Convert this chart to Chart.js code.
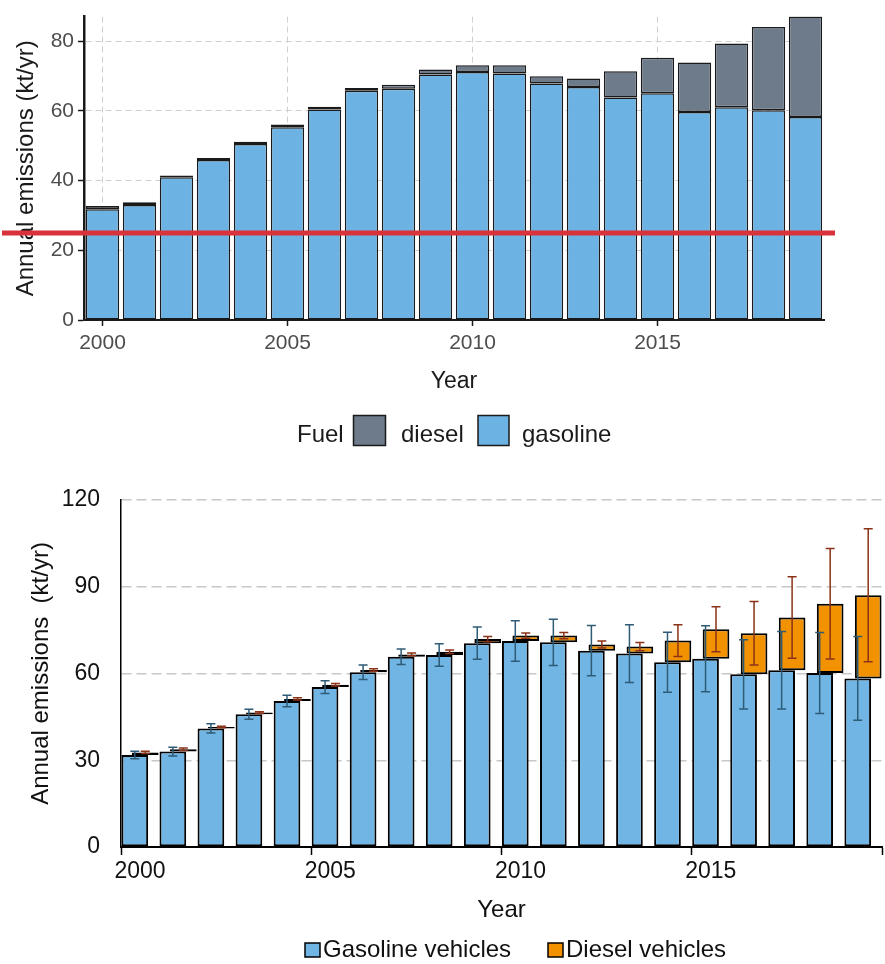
<!DOCTYPE html>
<html>
<head>
<meta charset="utf-8">
<script src="https://cdn.jsdelivr.net/npm/chart.js@4.4.1/dist/chart.umd.min.js"></script>
<style>
  body { margin: 0; background: #fff; }
  #top_wrap { position: absolute; left: 0; top: 0; width: 885px; height: 460px; }
  #bottom_wrap { position: absolute; left: 0; top: 460px; width: 885px; height: 504px; }
</style>
</head>
<body>
<div id="top_wrap"><canvas id="fuel_chart"></canvas></div>
<div id="bottom_wrap"><canvas id="vehicle_chart"></canvas></div>
<script>
// values (kt/yr)
var years = [2000, 2001, 2002, 2003, 2004, 2005, 2006, 2007, 2008, 2009,
             2010, 2011, 2012, 2013, 2014, 2015, 2016, 2017, 2018, 2019]
var gasoline = [31.8, 33.0, 41.0, 45.9, 50.5, 55.3, 60.4, 65.8, 66.4, 70.5,
                71.2, 70.8, 67.9, 66.9, 63.9, 65.1, 59.7, 61.1, 60.2, 58.3]
var diesel = [0.9, 0.8, 0.5, 0.6, 0.7, 0.8, 0.8, 0.8, 1.1, 1.4,
              1.9, 2.3, 2.1, 2.4, 7.5, 10.2, 14.2, 18.3, 23.9, 28.8]
var gasolineErr = [1.3, 1.5, 1.6, 1.7, 2.0, 2.2, 2.5, 2.7, 3.9, 5.6,
                   7.0, 8.0, 8.7, 10.0, 10.4, 11.4, 12.0, 13.4, 14.0, 14.5]
var dieselErr = [0.4, 0.4, 0.3, 0.3, 0.4, 0.4, 0.4, 0.5, 0.6, 0.9,
                 0.9, 1.1, 1.2, 1.4, 5.5, 7.8, 11.0, 14.1, 19.1, 23.0]

var shownYears = [2000, 2005, 2010, 2015]
var topYTicks = [0, 20, 40, 60, 80]
var bottomYTicks = [0, 30, 60, 90, 120]
var limitLine = 25

var FONT = "'Liberation Sans', Arial, sans-serif"
Chart.defaults.font.family = FONT
Chart.defaults.animation = false

var totals = gasoline.map((g, i) => g + diesel[i])

function isShown(i) {
  return shownYears.includes(years[i])
}

// ---------- top chart (stacked, ggplot look) ----------
var topExtras = {
  id: 'topExtras',
  afterDraw(chart) {
    var ctx = chart.ctx
    var yPix = chart.scales.y.getPixelForValue(limitLine)
    ctx.save()
    ctx.strokeStyle = '#d8333b'
    ctx.lineWidth = 5
    ctx.beginPath()
    ctx.moveTo(2, yPix)
    ctx.lineTo(chart.chartArea.right + 11, yPix)
    ctx.stroke()

    // legend
    ctx.font = '24px ' + FONT
    ctx.fillStyle = '#1a1a1a'
    ctx.textBaseline = 'alphabetic'
    ctx.fillText('Fuel', 297, 441.5)
    ctx.lineWidth = 1.5
    ctx.strokeStyle = '#1a1a1a'
    ctx.fillStyle = '#6e7b8b'
    ctx.fillRect(353.5, 415.5, 32, 30)
    ctx.strokeRect(353.5, 415.5, 32, 30)
    ctx.fillStyle = '#6cb3e3'
    ctx.fillRect(478, 415.5, 31, 30)
    ctx.strokeRect(478, 415.5, 31, 30)
    ctx.fillStyle = '#1a1a1a'
    ctx.fillText('diesel', 401, 441.5)
    ctx.fillText('gasoline', 522, 441.5)
    ctx.restore()
  }
}

new Chart(document.getElementById('fuel_chart'), {
  type: 'bar',
  data: {
    labels: years,
    datasets: [
      {
        label: 'gasoline',
        data: gasoline,
        backgroundColor: '#6cb3e3',
        borderColor: '#1a1a1a',
        borderWidth: 1.5,
        borderSkipped: false
      },
      {
        label: 'diesel',
        data: diesel,
        backgroundColor: '#6e7b8b',
        borderColor: '#1a1a1a',
        borderWidth: 1.5,
        borderSkipped: false
      }
    ]
  },
  options: {
    responsive: true,
    maintainAspectRatio: false,
    barPercentage: 0.9,
    categoryPercentage: 1.0,
    layout: { padding: { top: 15, right: 61, bottom: 0, left: 0 } },
    plugins: { legend: { display: false }, tooltip: { enabled: false } },
    scales: {
      x: {
        stacked: true,
        grid: {
          offset: false,
          lineWidth: 1,
          color: c => isShown(c.index) ? '#cfcfcf' : 'rgba(0,0,0,0)',
          tickColor: c => isShown(c.index) ? '#1a1a1a' : 'rgba(0,0,0,0)',
          tickLength: 6,
          tickWidth: 1.5
        },
        border: { color: '#1a1a1a', width: 2, dash: [6, 4] },
        ticks: {
          autoSkip: false,
          maxRotation: 0,
          padding: 5,
          color: '#4d4d4d',
          font: { size: 21 },
          callback: (v, i) => isShown(i) ? String(years[i]) : ''
        },
        title: { display: true, text: 'Year', color: '#1a1a1a', font: { size: 23 }, padding: { bottom: 65 } },
        afterFit: s => { s.height = 140 }
      },
      y: {
        stacked: true,
        min: 0,
        max: Math.max(...totals),
        afterBuildTicks: s => { s.ticks = topYTicks.map(v => ({ value: v })) },
        grid: { color: '#cfcfcf', lineWidth: 1, tickColor: '#1a1a1a', tickLength: 6, tickWidth: 1.5 },
        border: { color: '#1a1a1a', width: 2.5, dash: [6, 4] },
        ticks: { padding: 4, color: '#4d4d4d', font: { size: 21 } },
        title: { display: true, text: 'Annual emissions (kt/yr)', color: '#1a1a1a', font: { size: 24 }, padding: { top: 12 } },
        afterFit: s => { s.width = 84 }
      }
    }
  },
  plugins: [topExtras]
})

// ---------- bottom chart (offset bars with error bars, Excel look) ----------
function drawErrors(ctx, meta, centres, errs, yScale, color) {
  ctx.save()
  ctx.strokeStyle = color
  ctx.lineWidth = 1.5
  meta.data.forEach(function(bar, i) {
    var top = yScale.getPixelForValue(centres[i] + errs[i])
    var bot = yScale.getPixelForValue(centres[i] - errs[i])
    ctx.beginPath()
    ctx.moveTo(bar.x, top)
    ctx.lineTo(bar.x, bot)
    ctx.moveTo(bar.x - 4.5, top)
    ctx.lineTo(bar.x + 4.5, top)
    ctx.moveTo(bar.x - 4.5, bot)
    ctx.lineTo(bar.x + 4.5, bot)
    ctx.stroke()
  })
  ctx.restore()
}

var bottomExtras = {
  id: 'bottomExtras',
  afterDatasetsDraw(chart) {
    var ctx = chart.ctx
    drawErrors(ctx, chart.getDatasetMeta(0), gasoline, gasolineErr, chart.scales.y, '#2e5b76')
    drawErrors(ctx, chart.getDatasetMeta(1), totals, dieselErr, chart.scales.y, '#8a3318')
  },
  afterDraw(chart) {
    var ctx = chart.ctx
    ctx.save()
    ctx.lineWidth = 1.5
    ctx.strokeStyle = '#000'
    ctx.fillStyle = '#70b5e4'
    ctx.fillRect(305, 483, 15, 14)
    ctx.strokeRect(305, 483, 15, 14)
    ctx.fillStyle = '#f39200'
    ctx.fillRect(548, 483, 15, 14)
    ctx.strokeRect(548, 483, 15, 14)
    ctx.font = '24px ' + FONT
    ctx.fillStyle = '#111'
    ctx.textBaseline = 'alphabetic'
    ctx.fillText('Gasoline vehicles', 323, 496.5)
    ctx.fillText('Diesel vehicles', 566, 496.5)
    ctx.restore()
  }
}

new Chart(document.getElementById('vehicle_chart'), {
  type: 'bar',
  data: {
    labels: years,
    datasets: [
      {
        label: 'Gasoline vehicles',
        data: gasoline,
        backgroundColor: '#70b5e4',
        borderColor: '#000',
        borderWidth: 2,
        borderSkipped: false
      },
      {
        label: 'Diesel vehicles',
        data: gasoline.map((g, i) => [g, totals[i]]),
        backgroundColor: '#f39200',
        borderColor: '#000',
        borderWidth: 2,
        borderSkipped: false
      }
    ]
  },
  options: {
    responsive: true,
    maintainAspectRatio: false,
    categoryPercentage: 0.55,
    barPercentage: 2.55,
    layout: { padding: { top: 40, right: 3, bottom: 0, left: 0 } },
    plugins: { legend: { display: false }, tooltip: { enabled: false } },
    scales: {
      x: {
        grid: {
          offset: true,
          drawOnChartArea: false,
          tickLength: 8,
          tickWidth: 1.5,
          tickColor: c => (c.index === undefined || isShown(c.index)) ? '#000' : 'rgba(0,0,0,0)'
        },
        border: { color: '#000', width: 2 },
        ticks: {
          autoSkip: false,
          maxRotation: 0,
          padding: 3,
          color: '#111',
          font: { size: 23 },
          callback: (v, i) => isShown(i) ? String(years[i]) : ''
        },
        title: { display: true, text: 'Year', color: '#111', font: { size: 24 }, padding: { bottom: 39 } },
        afterFit: s => { s.height = 117 }
      },
      y: {
        min: 0,
        max: 120,
        afterBuildTicks: s => { s.ticks = bottomYTicks.map(v => ({ value: v })) },
        grid: {
          color: c => (c.tick && c.tick.value === 0) ? 'rgba(0,0,0,0)' : '#c8c8c8',
          lineWidth: 1.5,
          drawTicks: false
        },
        border: { color: '#000', width: 1.5, dash: [10, 5] },
        ticks: { padding: 21, color: '#111', font: { size: 23 } },
        title: { display: true, text: 'Annual emissions  (kt/yr)', color: '#111', font: { size: 24 }, padding: { top: 27 } },
        afterFit: s => { s.width = 121 }
      }
    }
  },
  plugins: [bottomExtras]
})
</script>
</body>
</html>
